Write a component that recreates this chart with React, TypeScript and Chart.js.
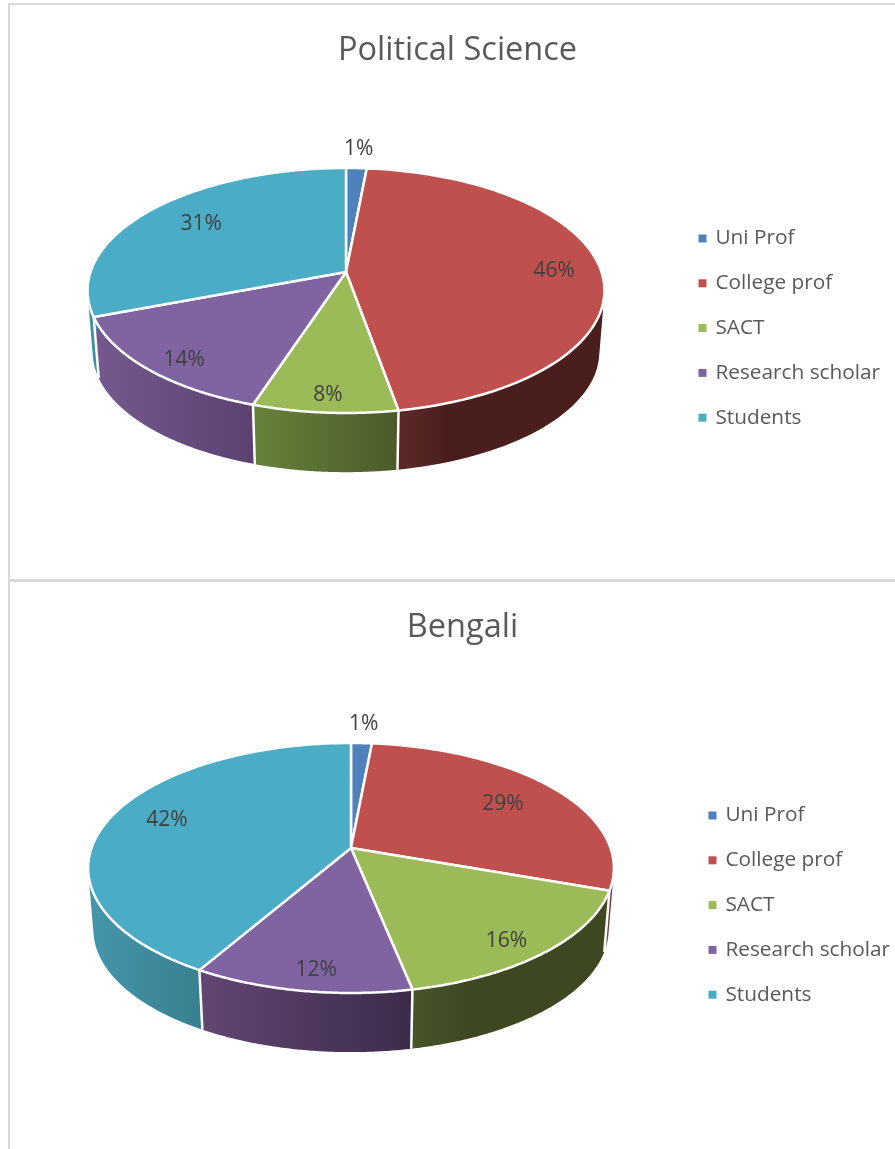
import React, { useEffect, useRef } from "react";
import { Chart, registerables } from "chart.js";

Chart.register(...registerables);

const categories = ["Uni Prof", "College prof", "SACT", "Research scholar", "Students"];
const sliceColors = ["#4F81BD", "#C0504D", "#9BBB59", "#8064A2", "#4BACC6"];

const politicalValues = [1.49, 45.71, 7.85, 14.15, 30.8];
const politicalLabels = ["1%", "46%", "8%", "14%", "31%"];
const bengaliValues = [1.49, 28.91, 16.4, 11.6, 41.6];
const bengaliLabels = ["1%", "29%", "16%", "12%", "42%"];

const FONT = "'Open Sans', 'Noto Sans', sans-serif";

type Projection = { cx: number; cy: number; a: number; b: number; k: number; s: number; drop: number };

function project(p: Projection, angle: number, r = 1, lower = false) {
  const u = r * Math.cos(angle);
  const v = r * Math.sin(angle);
  const d = 1 + p.k * v;
  const s = lower ? p.s : 1;
  return {
    x: p.cx + (s * p.a * u) / d,
    y: p.cy + (s * p.b * v) / d + (lower ? p.drop : 0),
  };
}

const STEPS = 90;

const pie3d = {
  id: "pie3d",
  afterLayout(chart: any, _args: any, opts: any) {
    const lg = chart.legend;
    const pad = lg.options.labels.padding;
    const centre = opts.legendFirstRow - 10.4 + 100;
    lg.left = opts.legendX - pad;
    lg.right = lg.left + 220;
    lg.top = centre - 250;
    lg.bottom = centre + 250;
  },
  beforeDatasetsDraw(chart: any, _args: any, opts: any) {
    const ctx: CanvasRenderingContext2D = chart.ctx;
    const p: Projection = opts.projection;
    const arcs = chart.getDatasetMeta(0).data;
    const colors = chart.data.datasets[0].backgroundColor;

    ctx.save();
    // side walls
    arcs.forEach((arc: any, i: number) => {
      const { startAngle, endAngle } = arc.getProps(["startAngle", "endAngle"], true);
      let minX = Infinity;
      let maxX = -Infinity;
      ctx.beginPath();
      for (let n = 0; n < STEPS; n++) {
        const a0 = startAngle + ((endAngle - startAngle) * n) / STEPS;
        const a1 = startAngle + ((endAngle - startAngle) * (n + 1)) / STEPS;
        if (Math.sin(a0) < -0.3 && Math.sin(a1) < -0.3) continue;
        const t0 = project(p, a0);
        const t1 = project(p, a1);
        const b1 = project(p, a1, 1, true);
        const b0 = project(p, a0, 1, true);
        const area =
          (t1.x - t0.x) * (b1.y - t0.y) - (b1.x - t0.x) * (t1.y - t0.y) +
          (b1.x - t0.x) * (b0.y - t0.y) - (b0.x - t0.x) * (b1.y - t0.y);
        const pts = area >= 0 ? [t0, t1, b1, b0] : [b0, b1, t1, t0];
        ctx.moveTo(pts[0].x, pts[0].y);
        ctx.lineTo(pts[1].x, pts[1].y);
        ctx.lineTo(pts[2].x, pts[2].y);
        ctx.lineTo(pts[3].x, pts[3].y);
        ctx.closePath();
        if (Math.sin(a0) > 0.05) {
          minX = Math.min(minX, t0.x, b0.x);
          maxX = Math.max(maxX, t0.x, b0.x);
        }
      }
      const shade = opts.wallShades[i];
      if (minX < maxX) {
        const g = ctx.createLinearGradient(minX, 0, maxX, 0);
        g.addColorStop(0, shade[0]);
        g.addColorStop(shade[2] ?? 1, shade[1]);
        ctx.fillStyle = g;
      } else {
        ctx.fillStyle = shade[0];
      }
      ctx.fill();
    });

    // white edges between the side walls
    ctx.strokeStyle = "#ffffff";
    ctx.lineWidth = 2.5;
    arcs.forEach((arc: any) => {
      const { startAngle } = arc.getProps(["startAngle"], true);
      if (Math.sin(startAngle) > 0.2) {
        const t = project(p, startAngle);
        const b = project(p, startAngle, 1, true);
        ctx.beginPath();
        ctx.moveTo(t.x, t.y);
        ctx.lineTo(b.x, b.y);
        ctx.stroke();
      }
    });

    // top face
    ctx.lineJoin = "round";
    arcs.forEach((arc: any, i: number) => {
      const { startAngle, endAngle } = arc.getProps(["startAngle", "endAngle"], true);
      ctx.beginPath();
      ctx.moveTo(p.cx, p.cy);
      for (let n = 0; n <= STEPS; n++) {
        const a = startAngle + ((endAngle - startAngle) * n) / STEPS;
        const pt = project(p, a);
        ctx.lineTo(pt.x, pt.y);
      }
      ctx.closePath();
      ctx.fillStyle = colors[i];
      ctx.fill();
      ctx.stroke();
    });

    // value labels
    ctx.fillStyle = "#404040";
    ctx.font = `21px ${FONT}`;
    ctx.textAlign = "center";
    ctx.textBaseline = "middle";
    arcs.forEach((arc: any, i: number) => {
      const { startAngle, endAngle } = arc.getProps(["startAngle", "endAngle"], true);
      const mid = (startAngle + endAngle) / 2 + (opts.labelTurns[i] * Math.PI) / 180;
      const pt = project(p, mid, opts.labelRadii[i]);
      ctx.fillText(opts.valueLabels[i], pt.x, pt.y + 3);
    });
    ctx.restore();
    return false;
  },
};

function PieChart(props: {
  title: string;
  values: number[];
  valueLabels: string[];
  width: number;
  height: number;
  top: number;
  projection: Projection;
  wallShades: any[];
  labelRadii: number[];
  labelTurns: number[];
  legendX: number;
  legendFirstRow: number;
  titleTop: number;
  titleShift: number;
}) {
  const ref = useRef<HTMLCanvasElement>(null);
  useEffect(() => {
    const chart = new Chart(ref.current as HTMLCanvasElement, {
      type: "pie",
      data: {
        labels: categories,
        datasets: [{ data: props.values, backgroundColor: sliceColors, borderWidth: 0 }],
      },
      plugins: [pie3d as any],
      options: {
        responsive: false,
        animation: false,
        layout: {
          padding: {
            left: Math.max(0, props.titleShift * 2),
            right: Math.max(0, -props.titleShift * 2),
          },
        },
        plugins: {
          tooltip: { enabled: false },
          title: {
            display: true,
            text: props.title,
            color: "#595959",
            font: { family: FONT, size: 32.5, weight: "normal" },
            padding: { top: props.titleTop, bottom: 10 },
          },
          legend: {
            display: true,
            position: "right",
            align: "center",
            labels: {
              color: "#595959",
              font: { family: FONT, size: 20.8 },
              usePointStyle: true,
              pointStyle: "rect",
              boxWidth: 5,
              boxHeight: 8,
              padding: 24,
            },
          },
          pie3d: {
            projection: props.projection,
            wallShades: props.wallShades,
            labelRadii: props.labelRadii,
            labelTurns: props.labelTurns,
            valueLabels: props.valueLabels,
            legendX: props.legendX,
            legendFirstRow: props.legendFirstRow,
          },
        } as any,
      },
    });
    return () => chart.destroy();
  }, []);
  return (
    <canvas
      ref={ref}
      width={props.width}
      height={props.height}
      style={{ position: "absolute", left: 0, top: props.top, width: props.width, height: props.height, display: "block" }}
    />
  );
}

const line = (left: number, top: number, width: number, height: number) => (
  <div style={{ position: "absolute", left, top, width, height, background: "#d9d9d9" }} />
);

export default function App() {
  return (
    <div style={{ position: "absolute", left: 0, top: 0, width: 895, height: 1149, overflow: "hidden", background: "#fff" }}>
      <PieChart
        title="Political Science"
        values={politicalValues}
        valueLabels={politicalLabels}
        width={895}
        height={578}
        top={0}
        projection={{ cx: 346, cy: 272, a: 255.5, b: 119.7, k: -0.151, s: 0.98, drop: 62 }}
        wallShades={[
          ["#3a5f8c", "#2f4e74"],
          ["#5a2927", "#4b1e1e", 0.2],
          ["#66823c", "#4b5a2a"],
          ["#75598f", "#5a4270"],
          ["#3f8fa8", "#3f8fa8"],
        ]}
        labelRadii={[1.25, 0.82, 0.87, 0.86, 0.76]}
        labelTurns={[0, 0, 0, -2, 2.5]}
        legendX={700}
        legendFirstRow={238.5}
        titleTop={31}
        titleShift={10}
      />
      <PieChart
        title="Bengali"
        values={bengaliValues}
        valueLabels={bengaliLabels}
        width={895}
        height={567}
        top={582}
        projection={{ cx: 351, cy: 266, a: 259.5, b: 121.8, k: -0.16, s: 0.98, drop: 62 }}
        wallShades={[
          ["#3a5f8c", "#2f4e74"],
          ["#7d4646", "#5f2e2e"],
          ["#47552a", "#3d4720", 0.3],
          ["#614672", "#3c2c4b"],
          ["#4596ac", "#38808f"],
        ]}
        labelRadii={[1.25, 0.75, 0.85, 0.85, 0.785]}
        labelTurns={[0, -1, 2, -1.5, 4.5]}
        legendX={710}
        legendFirstRow={233.5}
        titleTop={26}
        titleShift={15}
      />
      {line(8, 3, 887, 2)}
      {line(8, 3, 2, 576)}
      {line(8, 579, 887, 3)}
      {line(8, 582, 2, 567)}
    </div>
  );
}
